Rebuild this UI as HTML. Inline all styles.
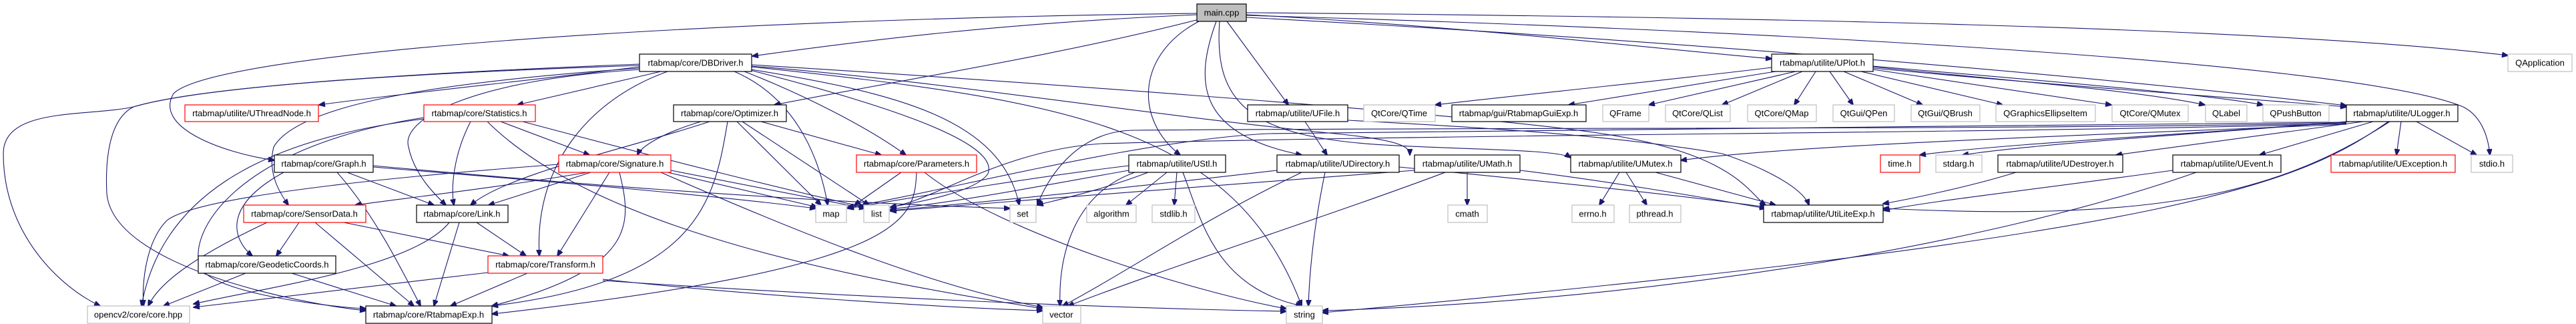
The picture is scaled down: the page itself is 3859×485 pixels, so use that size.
<!DOCTYPE html>
<html><head><meta charset="utf-8"><style>
html,body{margin:0;padding:0;background:#fff;}
svg{display:block;}
text{font-family:"Liberation Sans",Arial,sans-serif;font-size:13px;fill:#000;}
.e{fill:none;stroke:#191970;stroke-width:1.1;marker-end:url(#a);}
.b{fill:#fff;stroke:#000;stroke-width:1.2;}
.r{fill:#fff;stroke:#ff0000;stroke-width:1.2;}
.g{fill:#fff;stroke:#bfbfbf;stroke-width:1.2;}
</style></head><body>
<svg width="3859" height="485" viewBox="0 0 3859 485" xmlns="http://www.w3.org/2000/svg">
<defs><marker id="a" markerWidth="10" markerHeight="8" refX="9" refY="4" orient="auto" markerUnits="userSpaceOnUse"><path d="M0,0 L10,4 L0,8 z" fill="#191970" stroke="#191970"/></marker></defs>
<g>
<!-- main.cpp edges -->
<path class="e" d="M1793,22 C1500,35 1300,60 1127,84"/>
<path class="e" d="M1793,20 C1000,30 320,80 260,140 C230,190 330,228 411,240"/>
<path class="e" d="M1796,29 C1600,80 1350,120 1160,157"/>
<path class="e" d="M1800,30 C1700,80 1700,180 1768,232"/>
<path class="e" d="M1822,32 C1790,120 1790,200 1950,232"/>
<path class="e" d="M1827,32 C1820,130 1850,190 2000,210 C2100,225 2330,220 2353,236"/>
<path class="e" d="M1838,32 L1930,157"/>
<path class="e" d="M1867,22 C2200,40 2450,70 2654,88"/>
<path class="e" d="M1867,26 C2500,60 3100,110 3515,158"/>
<path class="e" d="M1867,19 C2600,25 3400,40 3757,83"/>
<path class="e" d="M1867,23 C2800,50 3550,100 3690,160 C3720,175 3728,210 3730,232"/>
<!-- DBDriver -->
<path class="e" d="M958,100 C800,120 600,140 478,157"/>
<path class="e" d="M990,107 L775,157"/>
<path class="e" d="M958,102 C700,120 450,150 410,220 C400,260 420,290 432,307"/>
<path class="e" d="M960,104 C700,120 600,180 612,220 C620,260 650,290 668,307"/>
<path class="e" d="M1000,107 C880,150 800,250 808,383"/>
<path class="e" d="M958,96 C600,110 300,130 200,160 C130,175 5,160 5,230 C5,350 90,430 150,458"/>
<path class="e" d="M958,98 C600,110 300,130 200,160 C160,180 158,250 160,290 C170,400 450,455 548,465"/>
<path class="e" d="M1100,107 C1200,150 1230,250 1240,307"/>
<path class="e" d="M1115,107 C1200,140 1300,190 1357,232"/>
<path class="e" d="M1120,104 C1300,150 1500,210 1480,260 C1460,290 1360,305 1334,310"/>
<path class="e" d="M1125,104 C1350,140 1500,180 1527,307"/>
<path class="e" d="M1126,100 C1600,150 1850,190 1950,458"/>
<path class="e" d="M1126,99 C1400,120 1700,170 2000,200 C2100,210 2112,220 2112,232"/>
<path class="e" d="M1126,97 C1500,120 2200,170 2400,200 C2600,230 2620,290 2645,307"/>
<!-- Statistics -->
<path class="e" d="M750,182 L883,232"/>
<path class="e" d="M635,178 C380,210 240,300 212,458"/>
<path class="e" d="M635,176 C350,220 280,350 300,400 C320,440 500,460 548,462"/>
<path class="e" d="M705,182 C680,230 675,280 680,307"/>
<path class="e" d="M730,182 C900,350 1300,420 1562,462"/>
<path class="e" d="M783,182 C1000,240 1200,290 1296,310"/>
<!-- Graph -->
<path class="e" d="M520,258 L650,307"/>
<path class="e" d="M505,258 C560,320 600,400 630,458"/>
<path class="e" d="M425,258 C330,310 350,360 378,383"/>
<path class="e" d="M559,250 C800,270 1050,290 1222,312"/>
<path class="e" d="M559,248 C800,270 1150,300 1513,312"/>
<!-- Signature -->
<path class="e" d="M880,258 C750,280 620,295 532,307"/>
<path class="e" d="M885,258 L732,307"/>
<path class="e" d="M913,258 L835,383"/>
<path class="e" d="M928,258 C945,330 960,400 737,458"/>
<path class="e" d="M837,246 C650,260 300,290 250,330 C220,360 212,420 215,458"/>
<path class="e" d="M1000,258 L1224,310"/>
<path class="e" d="M1005,255 L1296,312"/>
<path class="e" d="M990,258 C1200,350 1400,430 1562,460"/>
<!-- Optimizer -->
<path class="e" d="M1063,182 C950,220 760,260 705,307"/>
<path class="e" d="M1090,182 C1070,300 1050,420 737,458"/>
<path class="e" d="M1104,182 L1230,307"/>
<path class="e" d="M1112,182 L1302,307"/>
<path class="e" d="M1140,182 L1320,232"/>
<path class="e" d="M1050,182 C990,200 960,220 955,232"/>
<!-- Parameters -->
<path class="e" d="M1350,258 L1280,307"/>
<path class="e" d="M1373,258 C1370,330 1360,400 737,470"/>
<path class="e" d="M1385,258 C1500,350 1800,440 1927,462"/>
<!-- SensorData -->
<path class="e" d="M448,333 L414,383"/>
<path class="e" d="M472,333 L620,458"/>
<path class="e" d="M515,333 L762,383"/>
<path class="e" d="M400,333 C300,380 240,420 222,458"/>
<!-- Link -->
<path class="e" d="M673,333 C620,400 400,430 290,455"/>
<path class="e" d="M688,333 L650,458"/>
<path class="e" d="M714,333 L788,383"/>
<!-- Geodetic -->
<path class="e" d="M368,409 L245,458"/>
<path class="e" d="M437,409 L593,458"/>
<!-- Transform -->
<path class="e" d="M731,408 L290,460"/>
<path class="e" d="M790,409 L675,458"/>
<path class="e" d="M903,418 C1100,440 1400,460 1562,465"/>
<path class="e" d="M903,420 C1200,440 1600,460 1927,466"/>
<!-- UStl -->
<path class="e" d="M1691,248 C1550,265 1400,290 1270,312"/>
<path class="e" d="M1691,255 C1550,280 1450,300 1334,313"/>
<path class="e" d="M1720,258 C1650,285 1580,300 1554,307"/>
<path class="e" d="M1748,258 L1687,307"/>
<path class="e" d="M1763,258 L1759,307"/>
<path class="e" d="M1700,258 C1610,290 1585,380 1588,458"/>
<path class="e" d="M1772,258 C1800,330 1820,430 1950,458"/>
<!-- UDirectory -->
<path class="e" d="M1913,255 C1700,280 1500,300 1334,315"/>
<path class="e" d="M1985,258 C1970,330 1962,400 1960,458"/>
<path class="e" d="M1950,258 C1800,330 1700,400 1592,458"/>
<path class="e" d="M2096,250 C2300,270 2500,290 2645,310"/>
<!-- UFile -->
<path class="e" d="M1955,182 L1988,232"/>
<path class="e" d="M2019,180 C2200,190 2400,200 2580,230 C2640,250 2700,280 2710,307"/>
<!-- UMath -->
<path class="e" d="M2198,258 L2198,307"/>
<path class="e" d="M2165,258 C2000,320 1750,400 1600,458"/>
<path class="e" d="M2119,255 C1900,270 1600,295 1334,316"/>
<path class="e" d="M2277,255 C2400,270 2550,295 2645,312"/>
<!-- UMutex -->
<path class="e" d="M2426,258 L2396,307"/>
<path class="e" d="M2436,258 L2467,307"/>
<path class="e" d="M2480,258 L2660,307"/>
<!-- UPlot -->
<path class="e" d="M2654,101 C2500,120 2250,145 2150,157"/>
<path class="e" d="M2660,107 L2350,157"/>
<path class="e" d="M2690,107 L2470,157"/>
<path class="e" d="M2700,107 L2580,157"/>
<path class="e" d="M2720,107 L2688,157"/>
<path class="e" d="M2741,107 L2776,157"/>
<path class="e" d="M2762,107 L2880,157"/>
<path class="e" d="M2788,107 L3000,157"/>
<path class="e" d="M2806,104 L3163,157"/>
<path class="e" d="M2806,100 C3000,120 3200,135 3303,157"/>
<path class="e" d="M2806,99 C3050,120 3300,140 3390,157"/>
<path class="e" d="M2806,102 C3100,130 3400,150 3515,160"/>
<!-- ULogger -->
<path class="e" d="M3515,182 C3300,200 3000,215 2876,232"/>
<path class="e" d="M3520,182 C3300,200 3050,215 2940,232"/>
<path class="e" d="M3540,182 L3170,232"/>
<path class="e" d="M3555,182 L3385,232"/>
<path class="e" d="M3597,182 L3590,232"/>
<path class="e" d="M3620,182 L3710,232"/>
<path class="e" d="M3515,186 C3200,200 2700,215 2518,240"/>
<path class="e" d="M3580,182 C3400,300 3200,330 2821,312"/>
<path class="e" d="M3578,182 C3450,270 3300,350 1981,468"/>
<path class="e" d="M3515,184 C3000,195 2300,190 1700,195 C1600,195 1560,290 1554,307"/>
<path class="e" d="M3515,185 C3000,200 2200,200 1650,215 C1500,225 1400,300 1334,310"/>
<path class="e" d="M3515,183 C3000,190 2300,192 1900,200 C1700,210 1400,290 1270,310"/>
<!-- UDestroyer / UEvent -->
<path class="e" d="M3020,258 C2950,280 2850,300 2821,305"/>
<path class="e" d="M3255,255 C3000,290 2900,300 2822,315"/>
<path class="e" d="M3290,258 C3000,360 2500,450 1981,465"/>
</g>
<g>
<rect x="1793" y="6" width="74" height="26" fill="#bfbfbf" stroke="#000" stroke-width="1.2"/><text x="1830" y="23.5" text-anchor="middle">main.cpp</text>
<rect class="b" x="958" y="81" width="168" height="26"/><text x="1042" y="98.5" text-anchor="middle">rtabmap/core/DBDriver.h</text>
<rect class="b" x="2654" y="81" width="152" height="26"/><text x="2730" y="98.5" text-anchor="middle">rtabmap/utilite/UPlot.h</text>
<rect class="g" x="3757" y="81" width="96" height="26"/><text x="3805" y="98.5" text-anchor="middle">QApplication</text>

<rect class="r" x="277" y="157" width="200" height="25"/><text x="377" y="174" text-anchor="middle">rtabmap/utilite/UThreadNode.h</text>
<rect class="r" x="635" y="157" width="167" height="25"/><text x="718" y="174" text-anchor="middle">rtabmap/core/Statistics.h</text>
<rect class="b" x="1009" y="157" width="169" height="25"/><text x="1093" y="174" text-anchor="middle">rtabmap/core/Optimizer.h</text>
<rect class="b" x="1869" y="157" width="150" height="25"/><text x="1944" y="174" text-anchor="middle">rtabmap/utilite/UFile.h</text>
<rect class="g" x="2043" y="157" width="107" height="25"/><text x="2096" y="174" text-anchor="middle">QtCore/QTime</text>
<rect class="b" x="2175" y="157" width="201" height="25"/><text x="2275" y="174" text-anchor="middle">rtabmap/gui/RtabmapGuiExp.h</text>
<rect class="g" x="2401" y="157" width="69" height="25"/><text x="2435" y="174" text-anchor="middle">QFrame</text>
<rect class="g" x="2495" y="157" width="97" height="25"/><text x="2543" y="174" text-anchor="middle">QtCore/QList</text>
<rect class="g" x="2618" y="157" width="103" height="25"/><text x="2669" y="174" text-anchor="middle">QtCore/QMap</text>
<rect class="g" x="2746" y="157" width="92" height="25"/><text x="2792" y="174" text-anchor="middle">QtGui/QPen</text>
<rect class="g" x="2863" y="157" width="103" height="25"/><text x="2914" y="174" text-anchor="middle">QtGui/QBrush</text>
<rect class="g" x="2990" y="157" width="149" height="25"/><text x="3064" y="174" text-anchor="middle">QGraphicsEllipseItem</text>
<rect class="g" x="3164" y="157" width="114" height="25"/><text x="3221" y="174" text-anchor="middle">QtCore/QMutex</text>
<rect class="g" x="3304" y="157" width="62" height="25"/><text x="3335" y="174" text-anchor="middle">QLabel</text>
<rect class="g" x="3390" y="157" width="99" height="25"/><text x="3439" y="174" text-anchor="middle">QPushButton</text>
<rect class="b" x="3515" y="157" width="167" height="25"/><text x="3598" y="174" text-anchor="middle">rtabmap/utilite/ULogger.h</text>

<rect class="b" x="411" y="232" width="148" height="26"/><text x="485" y="249.5" text-anchor="middle">rtabmap/core/Graph.h</text>
<rect class="r" x="837" y="232" width="168" height="26"/><text x="921" y="249.5" text-anchor="middle">rtabmap/core/Signature.h</text>
<rect class="r" x="1283" y="232" width="180" height="26"/><text x="1373" y="249.5" text-anchor="middle">rtabmap/core/Parameters.h</text>
<rect class="b" x="1691" y="232" width="145" height="26"/><text x="1763" y="249.5" text-anchor="middle">rtabmap/utilite/UStl.h</text>
<rect class="b" x="1913" y="232" width="183" height="26"/><text x="2004" y="249.5" text-anchor="middle">rtabmap/utilite/UDirectory.h</text>
<rect class="b" x="2119" y="232" width="158" height="26"/><text x="2198" y="249.5" text-anchor="middle">rtabmap/utilite/UMath.h</text>
<rect class="b" x="2353" y="232" width="165" height="26"/><text x="2435" y="249.5" text-anchor="middle">rtabmap/utilite/UMutex.h</text>
<rect class="r" x="2817" y="232" width="59" height="26"/><text x="2846" y="249.5" text-anchor="middle">time.h</text>
<rect class="g" x="2900" y="232" width="69" height="26"/><text x="2934" y="249.5" text-anchor="middle">stdarg.h</text>
<rect class="b" x="2993" y="232" width="187" height="26"/><text x="3086" y="249.5" text-anchor="middle">rtabmap/utilite/UDestroyer.h</text>
<rect class="b" x="3255" y="232" width="162" height="26"/><text x="3336" y="249.5" text-anchor="middle">rtabmap/utilite/UEvent.h</text>
<rect class="r" x="3492" y="232" width="186" height="26"/><text x="3585" y="249.5" text-anchor="middle">rtabmap/utilite/UException.h</text>
<rect class="g" x="3702" y="232" width="62" height="26"/><text x="3733" y="249.5" text-anchor="middle">stdio.h</text>

<rect class="r" x="365" y="307" width="183" height="26"/><text x="456" y="324.5" text-anchor="middle">rtabmap/core/SensorData.h</text>
<rect class="b" x="624" y="307" width="137" height="26"/><text x="692" y="324.5" text-anchor="middle">rtabmap/core/Link.h</text>
<rect class="g" x="1222" y="307" width="46" height="26"/><text x="1245" y="324.5" text-anchor="middle">map</text>
<rect class="g" x="1294" y="307" width="38" height="26"/><text x="1313" y="324.5" text-anchor="middle">list</text>
<rect class="g" x="1513" y="307" width="39" height="26"/><text x="1532" y="324.5" text-anchor="middle">set</text>
<rect class="g" x="1628" y="307" width="74" height="26"/><text x="1665" y="324.5" text-anchor="middle">algorithm</text>
<rect class="g" x="1726" y="307" width="64" height="26"/><text x="1758" y="324.5" text-anchor="middle">stdlib.h</text>
<rect class="g" x="2169" y="307" width="59" height="26"/><text x="2198" y="324.5" text-anchor="middle">cmath</text>
<rect class="g" x="2355" y="307" width="63" height="26"/><text x="2386" y="324.5" text-anchor="middle">errno.h</text>
<rect class="g" x="2441" y="307" width="77" height="26"/><text x="2479" y="324.5" text-anchor="middle">pthread.h</text>
<rect class="b" x="2642" y="307" width="179" height="26"/><text x="2731" y="324.5" text-anchor="middle">rtabmap/utilite/UtiLiteExp.h</text>

<rect class="b" x="297" y="383" width="206" height="26"/><text x="400" y="400.5" text-anchor="middle">rtabmap/core/GeodeticCoords.h</text>
<rect class="r" x="731" y="383" width="172" height="26"/><text x="817" y="400.5" text-anchor="middle">rtabmap/core/Transform.h</text>

<rect class="g" x="131" y="458" width="153" height="26"/><text x="207" y="475.5" text-anchor="middle">opencv2/core/core.hpp</text>
<rect class="b" x="548" y="458" width="189" height="26"/><text x="642" y="475.5" text-anchor="middle">rtabmap/core/RtabmapExp.h</text>
<rect class="g" x="1562" y="458" width="57" height="26"/><text x="1590" y="475.5" text-anchor="middle">vector</text>
<rect class="g" x="1927" y="458" width="54" height="26"/><text x="1954" y="475.5" text-anchor="middle">string</text>
</g>
</svg>
</body></html>
